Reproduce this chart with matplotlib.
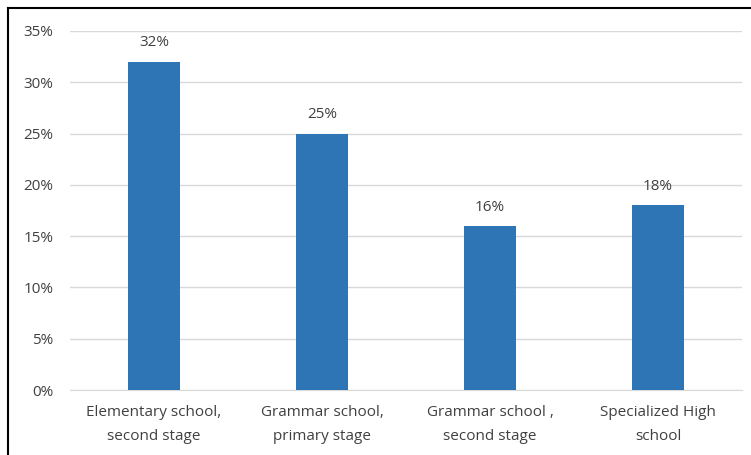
import matplotlib
matplotlib.use("Agg")
import matplotlib.pyplot as plt
from matplotlib.lines import Line2D
from matplotlib.ticker import MultipleLocator, FuncFormatter

categories = ["Elementary school,\nsecond stage", "Grammar school,\nprimary stage",
              "Grammar school ,\nsecond stage", "Specialized High\nschool"]
values = [32, 25, 16, 18]

plt.rcParams['font.family'] = ['Open Sans', 'DejaVu Sans']
text_color = "#404040"
bar_color = "#2e75b6"

fig = plt.figure(figsize=(7.51, 4.55), dpi=100)
W, H = 751, 455
ax = fig.add_axes([70 / W, 1 - 390 / H, (742 - 70) / W, (390 - 31) / H])

x = range(len(categories))
bars = ax.bar(x, values, width=0.31, color=bar_color, zorder=3)
for xi, v in zip(x, values):
    ax.text(xi, v + 1.1, f"{v}%", ha="center", va="bottom", fontsize=11, color=text_color)

ax.set_ylim(0, 35)
ax.set_xlim(-0.5, len(categories) - 0.5)
ax.yaxis.set_major_locator(MultipleLocator(5))
ax.yaxis.set_major_formatter(FuncFormatter(lambda v, p: f"{v:.0f}%"))
ax.grid(axis="y", color="#d9d9d9", linewidth=1, zorder=0)
for s in ["top", "right", "left"]:
    ax.spines[s].set_visible(False)
ax.spines["bottom"].set_color("#d9d9d9")
ax.tick_params(axis="both", length=0, labelsize=11, colors=text_color)
ax.tick_params(axis="y", pad=12)
ax.tick_params(axis="x", pad=11)
ax.set_xticks(list(x))
ax.set_xticklabels(categories, linespacing=1.8)

# frame lines around the chart area
fig.add_artist(Line2D([7.5 / W, 7.5 / W], [0, 1 - 8 / H], transform=fig.transFigure,
                      color="black", linewidth=1.5))
fig.add_artist(Line2D([7.5 / W, 1], [1 - 8 / H, 1 - 8 / H], transform=fig.transFigure,
                      color="black", linewidth=1.5))

fig.savefig("out.png", dpi=100)
